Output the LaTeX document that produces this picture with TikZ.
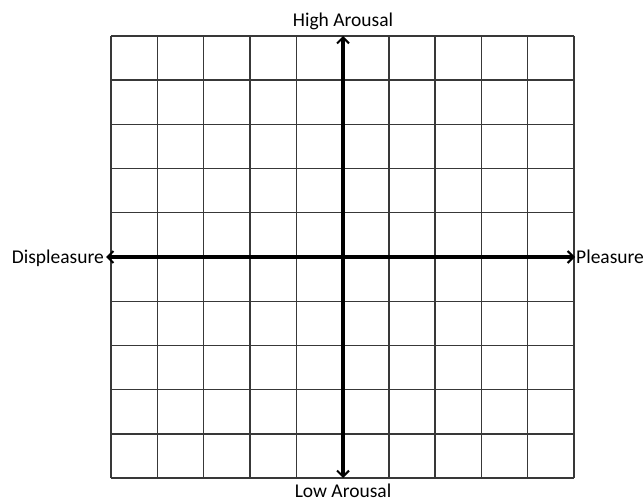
\documentclass[tikz,border=0pt]{standalone}
\usepackage{fontspec}
\setmainfont{Carlito}
\usetikzlibrary{arrows.meta}
\begin{document}
\begin{tikzpicture}[x=1pt,y=-1pt,
  gridline/.style={line width=1.4pt,black!78},
  axis/.style={line width=3.3pt,black,-{Straight Barb[length=6pt,width=12pt,line width=2pt]}},
  lbl/.style={font=\fontsize{19.5}{21}\selectfont,inner sep=0pt}]
\useasboundingbox (0,0) rectangle (644,502);
\foreach \i in {0,...,10} {
  \draw[gridline] ({111+46.3*\i},36) -- ({111+46.3*\i},478);
  \draw[gridline] (111,{36+44.2*\i}) -- (574,{36+44.2*\i});
}
\coordinate (c) at (343,257);
\coordinate (top) at (343,36);
\coordinate (bot) at (343,478);
\coordinate (lft) at (106,257);
\coordinate (rgt) at (575,257);
\draw[axis] (c) -- (top);
\draw[axis] (c) -- (bot);
\draw[axis] (c) -- (lft);
\draw[axis] (c) -- (rgt);
\node[lbl,anchor=base] (ha) at (343,27) {High Arousal};
\node[lbl,anchor=base] (la) at (343,497) {Low Arousal};
\node[lbl,anchor=base east] (dp) at (104,263) {Displeasure};
\node[lbl,anchor=base west] (pl) at (576,263) {Pleasure};
\end{tikzpicture}
\end{document}
